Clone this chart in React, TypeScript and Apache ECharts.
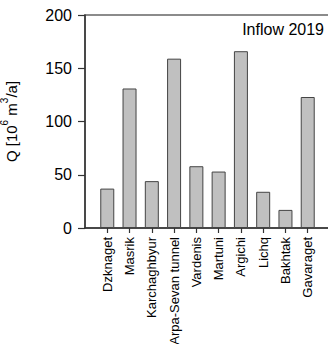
import React, { useEffect, useRef } from "react";
import * as echarts from "echarts";

const stations = [
  "Dzknaget",
  "Masrik",
  "Karchaghbyur",
  "Arpa-Sevan tunnel",
  "Vardenis",
  "Martuni",
  "Argichi",
  "Lichq",
  "Bakhtak",
  "Gavaraget",
];
const inflow = [37, 131, 44, 159, 58, 53, 166, 34, 17, 123];
const yTicks = [0, 50, 100, 150, 200];

const FONT = "'Liberation Sans', Arial, sans-serif";

export default function App() {
  const ref = useRef<HTMLDivElement>(null);

  useEffect(() => {
    if (!ref.current) return;
    const chart = echarts.init(ref.current, null, { renderer: "svg" });
    const positions = stations.map((_, i) => i + 1);
    chart.setOption({
      animation: false,
      textStyle: { fontFamily: FONT },
      grid: {
        left: 85,
        top: 15,
        right: -2,
        bottom: 116,
        outerBoundsMode: "none",
        containLabel: false,
        show: true,
        borderColor: "#666",
        borderWidth: 1.5,
        backgroundColor: "transparent",
      },
      xAxis: {
        type: "value",
        min: 0,
        max: 11,
        interval: 1,
        splitLine: { show: false },
        axisLine: { show: true, lineStyle: { color: "#333", width: 1.5 } },
        axisTick: {
          show: true,
          length: 5,
          customValues: positions,
          lineStyle: { color: "#333", width: 1.2 },
        },
        axisLabel: {
          customValues: positions,
          rotate: 90,
          fontSize: 13,
          color: "#000",
          margin: 9,
          fontFamily: FONT,
          formatter: (v: number) => stations[Math.round(v) - 1] ?? "",
        },
      },
      yAxis: {
        type: "value",
        min: yTicks[0],
        max: yTicks[yTicks.length - 1],
        interval: 50,
        splitLine: { show: false },
        axisLine: { show: true, lineStyle: { color: "#333", width: 1.5 } },
        axisTick: { show: true, length: 7, lineStyle: { color: "#333", width: 1.2 } },
        axisLabel: { fontSize: 16, color: "#000", margin: 13, fontFamily: FONT },
        name: "{a|Q [10}{s|6}{a| m}{s|3}{a|/a]}",
        nameLocation: "middle",
        nameRotate: 90,
        nameGap: 66,
        nameTextStyle: {
          fontFamily: FONT,
          rich: {
            a: { fontSize: 15, color: "#000", fontFamily: FONT, lineHeight: 20, verticalAlign: "bottom" },
            s: { fontSize: 10, color: "#000", fontFamily: FONT, lineHeight: 20, verticalAlign: "top" },
          },
        },
      },
      graphic: [
        {
          type: "text",
          right: 4,
          top: 21,
          style: { text: "Inflow 2019", fontSize: 16, fill: "#000", fontFamily: FONT },
        },
      ],
      series: [
        {
          type: "bar",
          data: inflow.map((v, i) => [i + 1, v]),
          barWidth: 14,
          itemStyle: { color: "#c0c0c0", borderColor: "#444", borderWidth: 1 },
        },
      ],
    });
    return () => chart.dispose();
  }, []);

  return (
    <div
      ref={ref}
      style={{ position: "fixed", left: 0, top: 0, width: 328, height: 344, background: "#fff" }}
    />
  );
}
